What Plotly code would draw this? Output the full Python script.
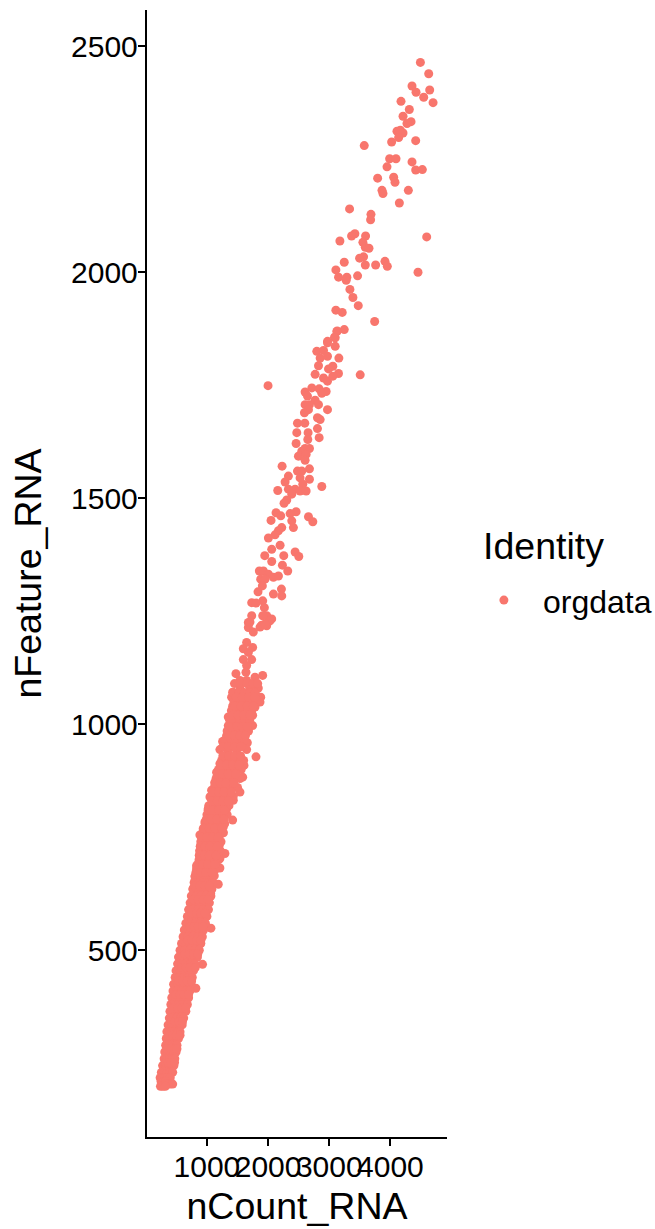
import plotly.graph_objects as go

# Individually readable cells, upper part of the cloud
count_top = [4490,4626,4353,4419,4642,4544,4697,4173,4309,4206,4337,4271,4107,4162,4206,4135,4020,4413,3572,3987,4091,3944,4353,4413,4522,3791,4053,4075,3862,3878,4293,4146,3332,3682,3676,4593,3419,3365,3594,3174,3550,3589,3649,3561,3496,3245,3589,3758,3911,3949,3108,4451,3463,3152,3288,3277,3338,3387,3474,3108,3212,3742,3245,3130,3086,2972]
feature_top = [2464,2439,2412,2398,2403,2387,2375,2378,2360,2345,2333,2329,2312,2314,2308,2298,2288,2291,2280,2251,2251,2233,2244,2226,2227,2208,2210,2199,2181,2174,2181,2153,2140,2128,2116,2078,2085,2080,2080,2069,2066,2055,2053,2034,2031,2022,2016,2016,2024,2013,2005,2000,1992,1989,1989,1982,1962,1944,1926,1916,1911,1891,1873,1870,1856,1847]

count_mid = [3124,3097,2971,3097,2796,2906,2971,2851,3157,2824,3058,2988,2769,3151,3506,2906,2971,3058,1999,2605,2715,2835,2949,2878,2644,2769,2824,2605,2676,2971,2660,2594,2807,2851,2480,2600,2807,2469,2654,2835,2649,2458,2605,2676,2551,2496,2622,2605,2229,2676,2480,2332,2551,2523,2676,2278,2878,2567,2158,2332,2442,2523,2622,2387,2305,2261,2130,2207,2458,2360,2048,2660,2731,2387,2414,2223,2169,2114,2005,2196,2059,1945,2256,2442,2502,2059,2234,2321,1857,1923,2005,2087,2169,1879,1950,1906,1835,2218,2087,2223,1732,1912,1803,1939,1732,2059,1977,1912,1677,1895,1977,1677]
feature_mid = [1869,1855,1844,1836,1825,1827,1814,1810,1810,1793,1792,1786,1774,1776,1773,1766,1759,1770,1749,1735,1744,1742,1736,1732,1726,1717,1707,1707,1707,1696,1696,1689,1678,1674,1666,1666,1654,1645,1645,1634,1630,1621,1610,1610,1604,1593,1597,1584,1571,1565,1560,1549,1560,1545,1542,1536,1526,1531,1517,1520,1520,1516,1516,1509,1496,1489,1468,1461,1470,1466,1451,1459,1448,1450,1435,1435,1428,1419,1412,1396,1387,1373,1373,1381,1371,1360,1352,1339,1339,1339,1332,1325,1328,1321,1321,1306,1293,1299,1288,1284,1269,1273,1268,1258,1240,1233,1240,1240,1225,1219,1218,1214]

count_low = [1704,1758,1868,2031,1950,1649,1595,1747,1677,1595,1731,1649,1474,1638,1911,1786,1540,1649,1840,1420,1540,1704,1879,1403,1649,1786,1513,1868,1420,1786,1567,1677,1349,1485,1747,1595,1349,1747,1513,1322,1638,1485,1256,1660,1376,1212,1649,1349,1485,1802,1212,1606,1485,1158,1376,1584,1131,1267,1431,1540,1076,1240,1376,1049,1212,1431,1021,1185,1322,1420,967,1131,1267,939,1076,1212,885,901,1049,1201,1294,874,1021,1212,830,967,1212,1076,803,939,1185,1049,776,912,1060,1065,928,819]
feature_low = [1226,1204,1215,1229,1222,1181,1167,1170,1159,1143,1143,1130,1112,1115,1108,1104,1097,1097,1080,1071,1078,1082,1060,1060,1064,1064,1056,1049,1040,1038,1038,1040,1016,1023,1020,1027,997,997,1001,975,981,979,962,959,964,944,944,942,942,928,913,909,924,894,894,883,872,872,872,850,854,850,858,839,828,832,813,806,813,788,784,788,773,769,762,755,755,732,740,732,714,710,718,703,687,696,682,681,663,666,646,652,637,633,626,549,469,416]

# Dense band, read row by row: one nFeature level, several nCount readings
band_levels = [1090,1070,1050,1030,1010,985,965,920,900,880,860,840,820,800,780,760,740,720,700,680,665,650,635,620,605,590,575,560,545,530,515,500,485,470,455,440,425,410,395,380,365,350,335,320,305,290,275,260,245,230,218,210,
               1060,1040,1020,995,975,950,930,910,890,870,850,830,810,790,770,750,730,710,690,672,642,612,582,552,522,492,462,432,402,372,342,312,282,252,204,199]
band_counts = [
    [1450,1550,1650,1750,1830],[1430,1520,1610,1700,1790],[1440,1530,1620,1700,1810],
    [1400,1500,1590,1680,1730],[1370,1450,1540,1620,1700],[1330,1420,1520,1600,1680],
    [1290,1400,1500,1590,1620],[1240,1300,1400,1500,1600],[1190,1280,1370,1460,1560],
    [1150,1240,1330,1420,1540],[1120,1210,1300,1390,1500],[1060,1150,1240,1330,1430],
    [1030,1120,1210,1300,1360],[1000,1090,1180,1270,1330],[970,1060,1150,1240,1290],
    [930,1020,1110,1200,1270],[900,990,1080,1170,1230],[880,960,1040,1120,1220],
    [870,950,1030,1110,1190],[830,910,990,1070,1150],[810,890,970,1050,1120],
    [790,870,950,1030,1100],[770,850,930,1010,1080],[745,825,905,985,1065],
    [725,805,885,965,1040],[700,780,860,940,1025],[680,760,840,920,1000],
    [655,735,815,895,975],[630,710,790,870,945],[610,690,770,850,925],
    [585,665,745,825,900],[560,640,720,800,875],[535,610,690,765,845],
    [520,590,660,730,805],[495,565,635,705,780],[480,550,620,690,760],
    [455,525,595,665,740],[445,510,580,650,720],[425,490,555,620,700],
    [410,475,540,605,680],[395,460,525,590,655],[385,445,505,565,620],
    [365,425,485,545,595],[345,405,465,525,560],[335,390,445,500,535],
    [325,375,425,475,510],[310,360,410,455,495],[300,345,390,435,475],
    [275,325,375,420,460],[255,300,350,395,440],[235,275,315,355,400],[250,285,320],
    [1480,1580,1680,1780],[1460,1560,1660,1760],[1420,1510,1600,1700],[1400,1490,1580,1660],[1360,1450,1540,1630],
    [1260,1350,1450,1560],[1260,1360,1450,1550],[1220,1320,1420,1520],[1170,1260,1350,1470],[1130,1220,1310,1440],
    [1090,1190,1280,1400],[1080,1170,1260,1350],[1020,1100,1190,1290],[990,1070,1160,1280],[950,1040,1130,1240],
    [920,1000,1090,1180],[890,970,1050,1170],[880,960,1040,1150],[850,930,1010,1130],[820,900,980,1090],
    [800,880,960,1040],[780,860,940,1020],[760,830,900,970],[720,790,860,930],[690,760,830,900],
    [640,710,780,850],[590,660,730,810],[540,610,680,750],[490,560,630,700],[450,520,590,650],
    [420,480,540,600],[380,440,500,560],[350,410,470,510],[320,370,420,470],[320,360,400,440],
    [240,280,320],[265,300],
]

x_ticks = [1000, 2000, 3000, 4000]
y_ticks = [500, 1000, 1500, 2000, 2500]
identity = "orgdata"
legend_title = "Identity"

x = count_top + count_mid + count_low
y = feature_top + feature_mid + feature_low
for level, counts in zip(band_levels, band_counts):
    x += counts
    y += [level] * len(counts)

FONT = "Liberation Sans"
fig = go.Figure(go.Scatter(
    x=x, y=y, mode="markers", name=" ",
    marker=dict(color="#F8766D", size=9, line=dict(width=0)),
))
axis = dict(showgrid=False, zeroline=False, showline=True, linecolor="black", linewidth=2.4,
            ticks="outside", ticklen=7, tickwidth=2.4, tickcolor="black", tickmode="array",
            tickfont=dict(family=FONT, size=30, color="black"))
fig.update_xaxes(**axis, range=[20, 4925], tickvals=x_ticks, tickangle=0, ticklabelstandoff=-5,
                 title=dict(text="nCount_RNA", font=dict(family=FONT, size=37.5, color="black"), standoff=11))
fig.update_yaxes(**axis, range=[87, 2580], tickvals=y_ticks, ticklabelstandoff=-6,
                 title=dict(text="nFeature_RNA", font=dict(family=FONT, size=37.5, color="black"), standoff=18))
fig.update_layout(
    width=655, height=1229, autosize=False, template=None,
    paper_bgcolor="white", plot_bgcolor="white", showlegend=True,
    margin=dict(l=147, r=208, t=10, b=92, pad=0),
    legend=dict(x=1.123, xanchor="left", y=0.5006, yanchor="top", bgcolor="rgba(0,0,0,0)",
                font=dict(family=FONT, size=32, color="black")),
    annotations=[
        dict(text=legend_title, xref="paper", yref="paper", x=1.112, y=0.5042,
             xanchor="left", yanchor="bottom", showarrow=False,
             font=dict(family=FONT, size=37.5, color="black")),
        dict(text=identity, xref="paper", yref="paper", x=1.313, y=0.4745,
             xanchor="left", yanchor="middle", showarrow=False,
             font=dict(family=FONT, size=32, color="black")),
    ],
)
fig.write_html("out.html", config={"displayModeBar": False},
               post_script="document.body.style.margin='0';")
